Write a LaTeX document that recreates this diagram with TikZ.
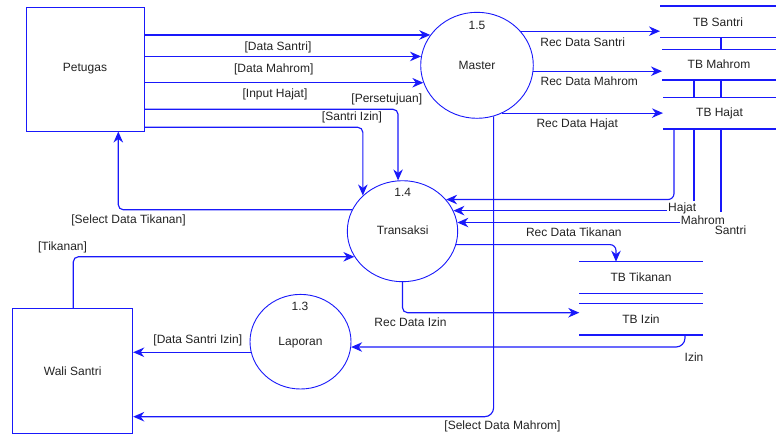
\documentclass[tikz,border=0pt]{standalone}
\usepackage{fontspec}
\setmainfont{Liberation Sans}
\usetikzlibrary{shapes.geometric,arrows.meta}
\pgfdeclarelayer{background}
\pgfsetlayers{background,main}
\definecolor{flowblue}{RGB}{25,25,250}
\definecolor{txtcol}{RGB}{35,35,35}
\begin{document}
\begin{tikzpicture}[x=1pt,y=-1pt,
  every node/.style={font=\fontsize{12}{14}\selectfont, text=txtcol},
  flow/.style={draw=flowblue, line width=1.15pt, rounded corners=5pt},
  arr/.style={flow, -{Stealth[length=11pt,width=9.5pt,inset=3.5pt]}},
  entity/.style={draw=flowblue, line width=1pt, fill=white, inner sep=0pt},
  proc/.style={ellipse, draw=flowblue, line width=0.9pt, fill=white, inner sep=0pt},
  store/.style={fill=white, inner sep=0pt, outer sep=0pt},
  lbl/.style={inner sep=0pt}]
\useasboundingbox (0,0) rectangle (776,434);

% external entities
\node[entity, minimum width=118pt, minimum height=124pt] (petugas) at (85,69) {Petugas};
\node[entity, minimum width=120pt, minimum height=125pt] (wali) at (72.7,370.8) {Wali Santri};

% processes
\node[proc, minimum width=112.6pt, minimum height=106pt] (master) at (477,65.3) {};
\node[proc, minimum width=110.4pt, minimum height=101pt] (transaksi) at (402.5,231.2) {};
\node[proc, minimum width=101pt, minimum height=94.6pt] (laporan) at (300.5,341.7) {};
\node[lbl] (n15) at (477,25) {1.5};
\node[lbl] (tmaster) at (477,65) {Master};
\node[lbl] (n14) at (402.7,192.3) {1.4};
\node[lbl] (ttrans) at (402.7,230.7) {Transaksi};
\node[lbl] (n13) at (300,306) {1.3};
\node[lbl] (tlap) at (300.5,342.3) {Laporan};

% data stores
\node[store, minimum width=116pt, minimum height=31.7pt] (tsantri) at (718,21.85) {TB Santri};
\node[store, minimum width=114pt, minimum height=30.7pt] (tmahrom) at (719,64.65) {TB Mahrom};
\node[store, minimum width=113pt, minimum height=31.7pt] (thajat) at (719.5,113.15) {TB Hajat};
\node[store, minimum width=123.4pt, minimum height=31.6pt] (ttikanan) at (641,277.5) {TB Tikanan};
\node[store, minimum width=123.4pt, minimum height=31.3pt] (tizin) at (641,319.35) {TB Izin};
\foreach \s in {tsantri,tmahrom,thajat,ttikanan,tizin}{
  \draw[flow] (\s.north west) -- (\s.north east);
  \draw[flow] (\s.south west) -- (\s.south east);
}

% helper coordinates
\coordinate (santriEnd) at (721,212);
\coordinate (mahromEnd) at (694,200.7);
\coordinate (hajatCol) at (674,160);
\coordinate (hajatEnd) at (667,210.7);
\coordinate (mahromLEnd) at (680,221.7);
\coordinate (persRow) at (300,109.3);
\coordinate (siRow) at (300,127.3);
\coordinate (sdtCol) at (118.3,180);
\coordinate (tikCol) at (73.3,280);
\coordinate (smRow) at (300,416.7);
\coordinate (rdiRow) at (500,312.7);
\coordinate (tikStoreCol) at (616,250);
\coordinate (izinCol) at (685,340);

% vertical pass-through lines (hidden behind stores)
\begin{pgfonlayer}{background}
\draw[flow] (santriEnd |- tsantri.south) -- (santriEnd);
\draw[flow] (mahromEnd |- tmahrom.south) -- (mahromEnd);
\end{pgfonlayer}

% Petugas -> Master
\draw[arr] (petugas.east |- master.147.6) -- (master.147.6);
\draw[arr] (petugas.east |- master.171.2) -- (master.171.2);
\draw[arr] (petugas.east |- master.198.1) -- (master.198.1);
% Petugas -> Transaksi
\draw[arr] (petugas.east |- persRow) -- (transaksi.95.5 |- persRow) -- (transaksi.95.5);
\draw[arr] (petugas.east |- siRow) -- (transaksi.138.7 |- siRow) -- (transaksi.138.7);
% Transaksi -> Petugas
\draw[arr] (transaksi.157.9) -- (sdtCol |- transaksi.157.9) -- (sdtCol |- petugas.south);
% Wali -> Transaksi
\draw[arr] (tikCol |- wali.north) -- (tikCol |- transaksi.208.2) -- (transaksi.208.2);
% Laporan -> Wali
\draw[arr] (laporan.192.1) -- (laporan.192.1 -| wali.east);
% Master -> Wali
\draw[arr, rounded corners=9pt] (master.288.6) -- (master.288.6 |- smRow) -- (smRow -| wali.east);
% Master -> stores
\draw[arr] (master.38.6) -- (master.38.6 -| tsantri.west);
\draw[arr] (master.354.5) -- (master.354.5 -| tmahrom.west);
\draw[arr] (master.298) -- (master.298 -| thajat.west);
% stores -> Transaksi
\draw[arr, rounded corners=6pt] (hajatCol |- thajat.south) -- (hajatCol |- transaksi.36.7) -- (transaksi.36.7);
\draw[arr] (hajatEnd |- transaksi.22.1) -- (transaksi.22.1);
\draw[arr] (mahromLEnd |- transaksi.9.9) -- (transaksi.9.9);
% Transaksi -> stores
\draw[arr, rounded corners=6pt] (transaksi.346.5) -- (tikStoreCol |- transaksi.346.5) -- (tikStoreCol |- ttikanan.north);
\draw[arr] (transaksi.270) -- (transaksi.270 |- rdiRow) -- (rdiRow -| tizin.west);
% TB Izin -> Laporan
\draw[arr, rounded corners=9pt] (izinCol |- tizin.south) -- (izinCol |- laporan.354.3) -- (laporan.354.3);

% flow labels
\node[lbl] (l1) at (278,47.7) {[Data Santri]};
\node[lbl] (l2) at (273.8,69) {[Data Mahrom]};
\node[lbl] (l3) at (275,94.3) {[Input Hajat]};
\node[lbl] (l4) at (386.8,99.3) {[Persetujuan]};
\node[lbl] (l5) at (352,117.7) {[Santri Izin]};
\node[lbl] (l6) at (128.5,220) {[Select Data Tikanan]};
\node[lbl] (l7) at (62.5,247.3) {[Tikanan]};
\node[lbl] (l8) at (197.8,340) {[Data Santri Izin]};
\node[lbl] (l9) at (502.5,426.7) {[Select Data Mahrom]};
\node[lbl] (l10) at (582.7,42.7) {Rec Data Santri};
\node[lbl] (l11) at (589.3,81.7) {Rec Data Mahrom};
\node[lbl] (l12) at (577.2,124.3) {Rec Data Hajat};
\node[lbl] (l13) at (573.8,232.3) {Rec Data Tikanan};
\node[lbl] (l14) at (410.5,322.3) {Rec Data Izin};
\node[lbl] (l15) at (694,356.7) {Izin};
\node[lbl, anchor=west] (l16) at (668,208.7) {Hajat};
\node[lbl, anchor=west] (l17) at (680.7,220) {Mahrom};
\node[lbl] (l18) at (730.5,230.7) {Santri};
\end{tikzpicture}
\end{document}
